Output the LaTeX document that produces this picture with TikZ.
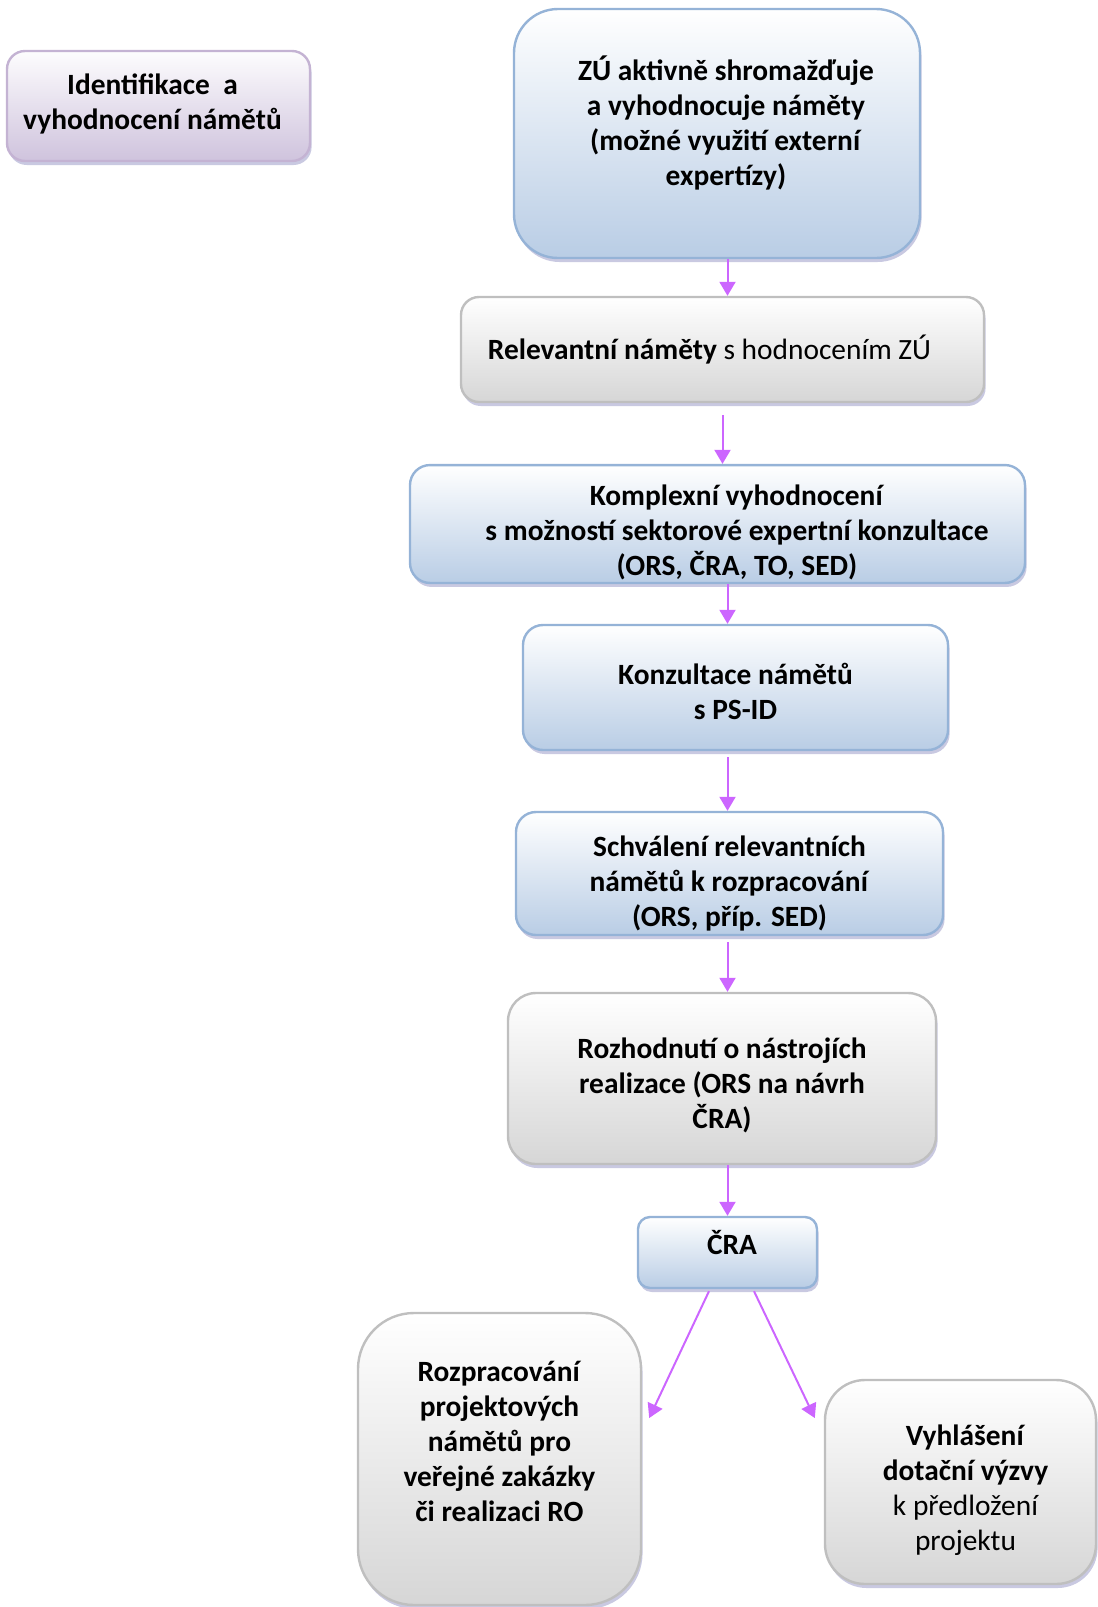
\documentclass[tikz,border=0pt]{standalone}
\usepackage{fontspec}
\setmainfont{Carlito}
\usetikzlibrary{arrows.meta,shadows,calc}
\definecolor{bluebot}{HTML}{B9CDE5}
\definecolor{blueline}{HTML}{95B3D7}
\definecolor{graybot}{HTML}{D6D6D6}
\definecolor{grayline}{HTML}{BFBFBF}
\definecolor{purplebot}{HTML}{CFC3DD}
\definecolor{purpleline}{HTML}{C4B3D3}
\definecolor{flowcolor}{HTML}{CC66FF}
\newcommand{\padw}[1]{\rule{#1}{0pt}}
\newcommand{\topgap}[1]{\rule{0pt}{#1}}
\tikzset{
	box/.style={inner sep=0pt, align=center, line width=1.2pt,
		font=\fontsize{14.7}{17.5}\selectfont,
		execute at end node=\rule[-0.269em]{0pt}{1.221em},
		drop shadow={shadow xshift=0.8pt, shadow yshift=-2pt, opacity=0.55, fill=gray!70!blue!60}},
	textlift/.style={execute at end node=\rule[-\dimexpr0.269em+#1\relax]{0pt}{0pt}},
	bluebox/.style={box, draw=blueline, top color=white, bottom color=bluebot},
	graybox/.style={box, draw=grayline, top color=white, bottom color=graybot},
	purplebox/.style={box, draw=purpleline, top color=white!96!purplebot, bottom color=purplebot},
	flow/.style={draw=flowcolor, line width=1pt, -{Triangle[length=7pt,width=8pt]}}
}

\begin{document}
\begin{tikzpicture}[x=0.5pt,y=-0.5pt]
	\useasboundingbox (0,0) rectangle (1098,1607);
	% boxes
	\node[purplebox, rounded corners=9pt, minimum width=151.5pt, minimum height=55pt] (ident) at (158.5,106)
		{\textbf{Identifikace~ a}\padw{6pt}\\\textbf{vyhodnocení námětů}\padw{6pt}};
	\node[bluebox, textlift=9pt, rounded corners=22pt, minimum width=203pt, minimum height=124.5pt] (zu) at (717,133.5)
		{\padw{9pt}\textbf{ZÚ aktivně shromažďuje}\\\padw{9pt}\textbf{a vyhodnocuje náměty}\\
		\padw{9pt}\textbf{(možné využití externí}\\\padw{9pt}\textbf{expertízy)}};
	\node[graybox, rounded corners=9pt, minimum width=261.5pt, minimum height=52.5pt] (relev) at (722.5,349.5)
		{\textbf{Relevantní náměty} s hodnocením ZÚ\padw{13pt}};
	\node[bluebox, rounded corners=10pt, minimum width=307.5pt, minimum height=58pt] (kompl) at (717.5,524)
		{\topgap{20pt}\padw{19.5pt}\textbf{Komplexní vyhodnocení}\\\padw{19.5pt}\textbf{s možností sektorové expertní konzultace}\\
		\padw{19.5pt}\textbf{(ORS, ČRA, TO, SED)}};
	\node[bluebox, rounded corners=10pt, minimum width=212.5pt, minimum height=62.5pt] (konz) at (735.5,687.5)
		{\topgap{18.5pt}\textbf{Konzultace námětů}\\\textbf{s PS-ID}};
	\node[bluebox, rounded corners=10pt, minimum width=213.5pt, minimum height=61.5pt] (schv) at (729.5,873.5)
		{\topgap{22pt}\textbf{Schválení relevantních}\\\textbf{námětů k rozpracování}\\\textbf{(ORS, příp. SED)}};
	\node[graybox, rounded corners=14pt, minimum width=214pt, minimum height=85.5pt] (rozh) at (722,1078.5)
		{\topgap{18.5pt}\textbf{Rozhodnutí o nástrojích}\\\textbf{realizace (ORS na návrh}\\\textbf{ČRA)}};
	\node[bluebox, textlift=8pt, rounded corners=6pt, minimum width=89.5pt, minimum height=35.5pt] (cra) at (727.5,1252.5)
		{\padw{4.5pt}\textbf{ČRA}};
	\node[graybox, textlift=14pt, rounded corners=28pt, minimum width=141.5pt, minimum height=146pt] (rozp) at (499.5,1459)
		{\textbf{Rozpracování}\\\textbf{projektových}\\\textbf{námětů pro}\\\textbf{veřejné zakázky}\\\textbf{či realizaci RO}};
	\node[graybox, rounded corners=20pt, minimum width=135.5pt, minimum height=102pt] (vyhl) at (960.5,1482)
		{\topgap{20pt}\padw{5pt}\textbf{Vyhlášení}\\\padw{5pt}\textbf{dotační výzvy}\\\padw{5pt}k předložení\\\padw{5pt}projektu};
	% arrows
	\draw[flow] (zu.south -| cra) -- (relev.north -| cra);
	\draw[flow, shorten <=6pt] (relev.south) -- (kompl.north -| relev);
	\draw[flow] (kompl.south -| cra) -- (konz.north -| cra);
	\draw[flow] ([yshift=-3pt]konz.south -| cra) -- (schv.north -| cra);
	\draw[flow] ([yshift=-3pt]schv.south -| cra) -- (rozh.north -| cra);
	\draw[flow] (rozh.south -| cra) -- (cra.north);
	\draw[flow] ($(cra.south)+(-18.5,2)$) -- ($(rozp.east)+(7,-41)$);
	\draw[flow] ($(cra.south)+(26.5,2)$) -- ($(vyhl.west)+(-9,-64)$);
\end{tikzpicture}
\end{document}
